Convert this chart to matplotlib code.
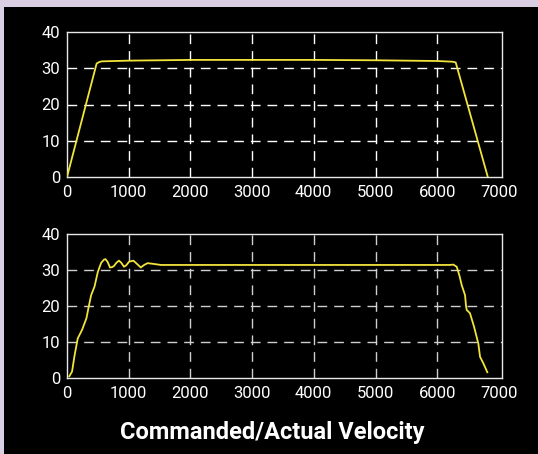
import matplotlib.pyplot as plt
from matplotlib.patches import Rectangle

# commanded velocity (top)
cmd_x = [0, 480, 520, 560, 1000, 2000, 3000, 4000, 5000, 6000, 6250, 6300, 6820]
cmd_y = [0, 31.3, 31.7, 31.9, 32.1, 32.3, 32.3, 32.3, 32.2, 32.0, 31.8, 31.6, 0]

# actual velocity (bottom)
act_x = [38, 82, 120, 174, 245, 315, 353, 391, 446, 500, 554, 600, 625, 660, 696, 730, 761,
         800, 842, 880, 924, 960, 1006, 1076, 1140, 1196, 1250, 1305, 1400, 1522, 2000,
         3000, 4000, 5000, 6000, 6200, 6261, 6316, 6359, 6397, 6451, 6467, 6478, 6531,
         6596, 6666, 6694, 6747, 6812]
act_y = [0.5, 1.8, 6, 11, 13.4, 16.6, 19.9, 23, 25.4, 29.5, 32, 32.9, 33, 32.2, 30.7, 30.8, 31.1,
         32.0, 32.6, 32.0, 30.9, 31.3, 32.3, 32.6, 31.6, 30.7, 31.4, 31.9, 31.7, 31.4, 31.4,
         31.4, 31.4, 31.4, 31.4, 31.4, 31.5, 30.9, 28.5, 25.8, 23, 20, 18.9, 18,
         14.3, 9.6, 5.9, 4.1, 1.6]

xticks = [0, 1000, 2000, 3000, 4000, 5000, 6000, 7000]
yticks = [0, 10, 20, 30, 40]

fig = plt.figure(figsize=(5.38, 4.54), dpi=100)
fig.patch.set_facecolor('#dacfe2')
fig.add_artist(Rectangle((4 / 538, 0), 1, (454 - 7) / 454, transform=fig.transFigure,
                         facecolor='black', edgecolor='none', zorder=-5))

tick_font = 'Roboto'


def style(ax, gridcolor):
    ax.set_facecolor('black')
    ax.set_xlim(0, 7050)
    ax.set_ylim(0, 40)
    ax.set_xticks(xticks)
    ax.set_yticks(yticks)
    for s in ax.spines.values():
        s.set_color('#e8e8e8')
        s.set_linewidth(1.0)
    ax.tick_params(length=0, colors='white', labelsize=12, pad=5)
    ax.tick_params(axis='x', pad=6)
    for lab in ax.get_xticklabels() + ax.get_yticklabels():
        lab.set_fontfamily(tick_font)
    for t in xticks[1:-1]:
        ax.axvline(t, color=gridcolor, linewidth=1.0, dashes=(7, 5), zorder=1)
    for t in yticks[1:-1]:
        ax.axhline(t, color=gridcolor, linewidth=1.0, dashes=(7, 5), zorder=1)


ax1 = fig.add_axes([67 / 538, (454 - 177) / 454, 435 / 538, 145 / 454])
style(ax1, 'white')
ax1.plot(cmd_x, cmd_y, color='#f2e43a', linewidth=1.3, zorder=3)

ax2 = fig.add_axes([67 / 538, (454 - 378) / 454, 435 / 538, 144 / 454])
style(ax2, '#cfcfcf')
ax2.plot(act_x, act_y, color='#f2e43a', linewidth=1.3, zorder=3)

fig.text(272 / 538, (454 - 433) / 454, 'Commanded/Actual Velocity', color='white',
         fontsize=17, fontweight='bold', fontfamily='Roboto', ha='center', va='center')

fig.savefig('out.png', dpi=100, facecolor=fig.get_facecolor())
